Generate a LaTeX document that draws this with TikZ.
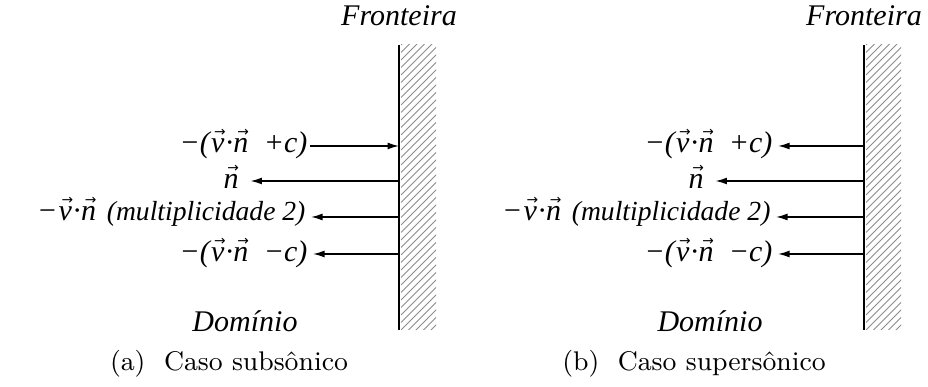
\documentclass[tikz,border=0pt]{standalone}
\usepackage{fontspec}
\usetikzlibrary{arrows.meta}
\newfontfamily\tms{Liberation Serif}[UprightFont={* Italic}, ItalicFont={* Italic}]
\newfontfamily\arrfont{DejaVu Sans}
% small vector arrow over a letter
\newcommand\vtr[1]{\leavevmode\vbox{\offinterlineskip\halign{\hfil##\hfil\cr
  {\arrfont\upshape\fontsize{4.6}{5}\selectfont\kern0.3em →}\cr\noalign{\kern0.9pt}#1\cr}}}

\begin{document}
\begin{tikzpicture}[x=0.3333pt,y=-0.3333pt,
  lbl/.style={font=\tms, inner sep=0pt},
  capt/.style={font=\fontsize{9}{11}\selectfont, inner sep=0pt},
  flux/.style={line width=0.45pt, -{Latex[length=3.8pt,width=2.3pt]}},
  wall/.style={line width=0.7pt},
  hatch/.style={line width=0.3pt, black!45}]
  \useasboundingbox (0,0) rectangle (928,387);
  \foreach \p/\wx/\txt in {a/399/Caso subsônico, b/864/Caso supersônico}{
    % boundary wall with hatching
    \coordinate (\p-top) at (\wx,45);
    \coordinate (\p-bot) at (\wx,330);
    \begin{scope}
      \clip (\wx+2,45) rectangle (\wx+37,330);
      \foreach \k in {0,...,47}
        \draw[hatch] (\wx+2,45+7.5*\k) -- ++(40,-40);
    \end{scope}
    \draw[wall] (\p-top) -- (\p-bot);
    \node[lbl, anchor=base] (\p-front) at (\wx,26) {Fronteira};
    \node[lbl, anchor=base] (\p-dom) at (\wx-154,332) {Domínio};
    \node[capt, anchor=base] (\p-cap) at (\wx-170,371) {(\p)\ \ \txt};
    % characteristic labels
    \node[lbl, anchor=base east] (\p-l1) at (\wx-91,153) {−(\vtr{v}·\vtr{n}\ \ +c)};
    \node[lbl, anchor=base] (\p-l2) at (\wx-168,189) {\vtr{n}};
    \node[lbl, anchor=base east] (\p-l3) at (\wx-93,221)
      {−\vtr{v}·\vtr{n}\ \kern1pt{\fontsize{9.2}{11}\selectfont (multiplicidade 2)}};
    \node[lbl, anchor=base east] (\p-l4) at (\wx-91,262) {−(\vtr{v}·\vtr{n}\ \ −c)};
    \coordinate (\p-w1) at (\wx,146);
    \coordinate (\p-w2) at (\wx,181);
    \coordinate (\p-w3) at (\wx,217);
    \coordinate (\p-w4) at (\wx,254);
    \draw[flux, shorten >=3.7pt] (\p-w2) -- (\p-l2.east |- \p-w2);
    \draw[flux, shorten >=1.7pt] (\p-w3) -- (\p-l3.east |- \p-w3);
    \draw[flux, shorten >=1.7pt] (\p-w4) -- (\p-l4.east |- \p-w4);
  }
  % incoming on the subsonic side, outgoing on the supersonic side
  \draw[flux, shorten <=0.7pt] (a-l1.east |- a-w1) -- (a-w1);
  \draw[flux, shorten >=1.7pt] (b-w1) -- (b-l1.east |- b-w1);
\end{tikzpicture}
\end{document}
